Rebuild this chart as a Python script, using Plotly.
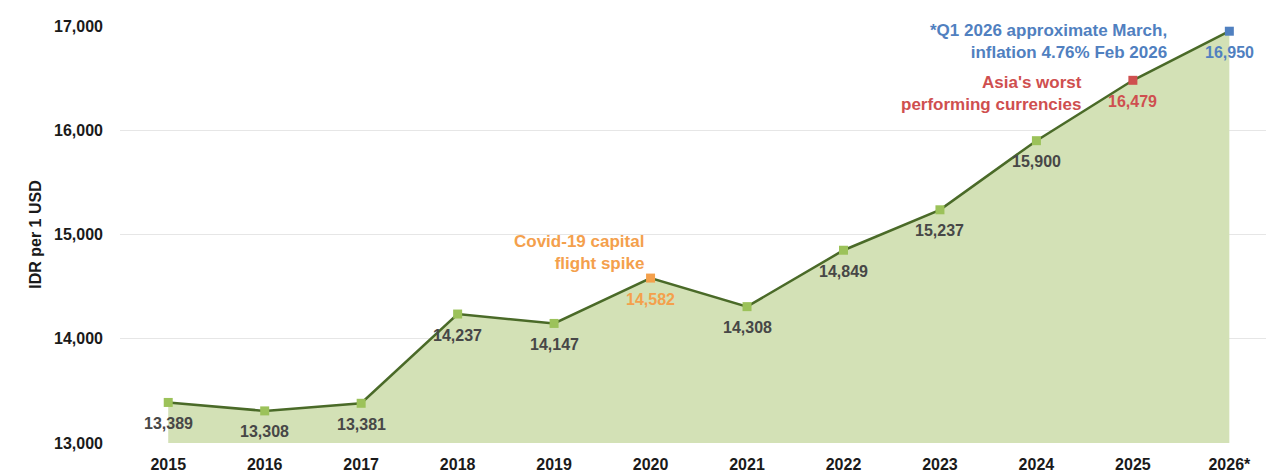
import plotly.graph_objects as go

years = ["2015", "2016", "2017", "2018", "2019", "2020", "2021", "2022", "2023", "2024", "2025", "2026*"]
rates = [13389, 13308, 13381, 14237, 14147, 14582, 14308, 14849, 15237, 15900, 16479, 16950]
labels = ["13,389", "13,308", "13,381", "14,237", "14,147", "14,582", "14,308", "14,849", "15,237", "15,900", "16,479", "16,950"]
y_ticks = [13000, 14000, 15000, 16000, 17000]
y_tick_text = ["13,000", "14,000", "15,000", "16,000", "17,000"]

GREEN = "#9cc25a"
ORANGE = "#f4a04c"
RED = "#cf4f4f"
BLUE = "#5080c0"
DARK = "#474747"

marker_colors = [GREEN] * 12
marker_colors[5] = ORANGE
marker_colors[10] = RED
marker_colors[11] = BLUE
label_colors = [DARK] * 12
label_colors[5] = ORANGE
label_colors[10] = RED
label_colors[11] = BLUE

xs = list(range(len(years)))
FONT = "Liberation Sans, Arial, sans-serif"

fig = go.Figure()
fig.add_trace(go.Scatter(
    x=xs, y=rates, mode="lines+markers",
    line=dict(color="#4a6a28", width=2.5),
    fill="tozeroy", fillcolor="#d3e1b6",
    marker=dict(symbol="square", size=9, color=marker_colors),
    cliponaxis=False, showlegend=False,
))

for xi, v, lab, c in zip(xs, rates, labels, label_colors):
    fig.add_annotation(x=xi, y=v, xref="x", yref="y", text="<b>" + lab + "</b>",
                       showarrow=False, xanchor="center", yanchor="middle", yshift=-21,
                       font=dict(family=FONT, size=16, color=c))

annots = [
    (4.95, 14832, "Covid-19 capital<br>flight spike", ORANGE),
    (9.49, 16357, "Asia's worst<br>performing currencies", RED),
    (10.37, 16850, "*Q1 2026 approximate March,<br>inflation 4.76% Feb 2026", BLUE),
]
for ax_, ay_, t, c in annots:
    fig.add_annotation(x=ax_, y=ay_, xref="x", yref="y", text="<b>" + t + "</b>",
                       showarrow=False, xanchor="right", yanchor="middle", align="right",
                       font=dict(family=FONT, size=17, color=c))

fig.update_layout(
    width=1266, height=475,
    margin=dict(l=120, r=0, t=26, b=32),
    plot_bgcolor="white", paper_bgcolor="white",
    font=dict(family=FONT),
    xaxis=dict(
        range=[-0.5, 11.38], tickmode="array", tickvals=xs, ticktext=years,
        showgrid=False, zeroline=False, showline=False,
        tickfont=dict(family=FONT, size=16, color="#1a1a1a", weight="bold"),
        ticks="", ticklabelstandoff=10,
    ),
    yaxis=dict(
        range=[13000, 17000], tickmode="array", tickvals=y_ticks, ticktext=y_tick_text,
        showgrid=True, gridcolor="#e6e6e6", gridwidth=1, zeroline=False, showline=False,
        tickfont=dict(family=FONT, size=16, color="#1a1a1a", weight="bold"),
        ticks="", ticklabelstandoff=16,
        title=dict(text="<b>IDR per 1 USD</b>", font=dict(family=FONT, size=16, color="#1a1a1a"), standoff=8),
    ),
)
fig.write_html("out.html")
